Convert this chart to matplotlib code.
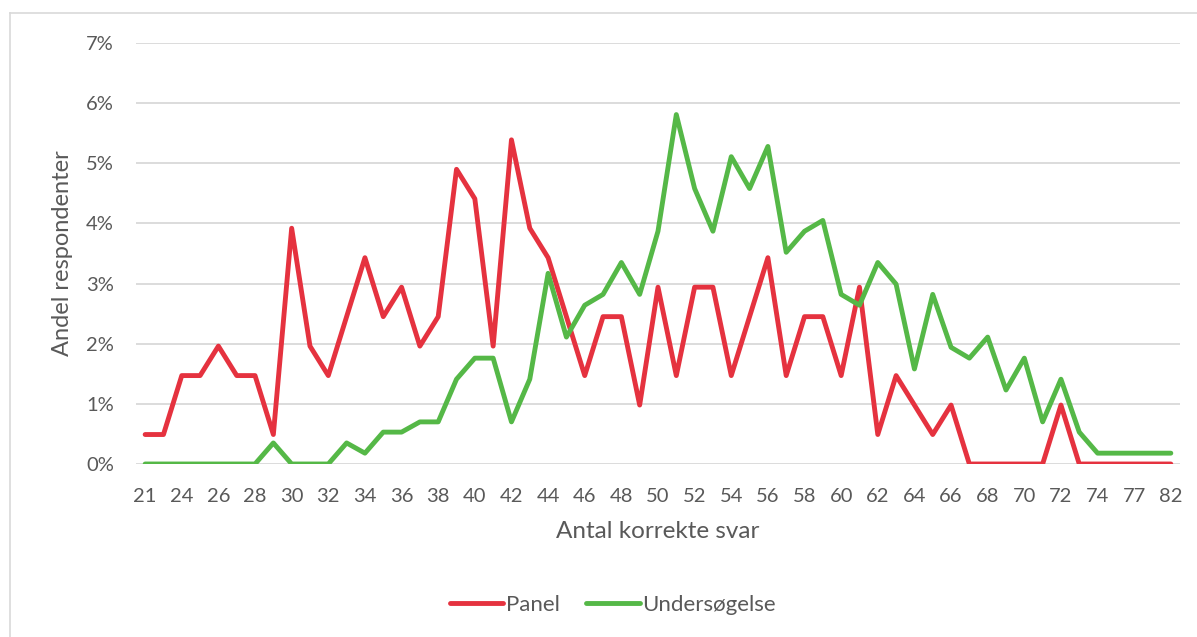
import matplotlib
matplotlib.use("Agg")
import matplotlib.pyplot as plt
from matplotlib.lines import Line2D
from matplotlib.ticker import FuncFormatter, MultipleLocator

plt.rcParams['font.family'] = ['Lato', 'DejaVu Sans']

categories = ['21', '22', '24', '25', '26', '27', '28', '29', '30', '31', '32', '33',
              '34', '35', '36', '37', '38', '39', '40', '41', '42', '43', '44', '45',
              '46', '47', '48', '49', '50', '51', '52', '53', '54', '55', '56', '57',
              '58', '59', '60', '61', '62', '63', '64', '65', '66', '67', '68', '69',
              '70', '71', '72', '73', '74', '75', '77', '79', '82']

panel = [0.49, 0.49, 1.47, 1.47, 1.96, 1.47, 1.47, 0.49, 3.92, 1.96, 1.47, 2.45,
         3.43, 2.45, 2.94, 1.96, 2.45, 4.90, 4.41, 1.96, 5.39, 3.92, 3.43, 2.45,
         1.47, 2.45, 2.45, 0.98, 2.94, 1.47, 2.94, 2.94, 1.47, 2.45, 3.43, 1.47,
         2.45, 2.45, 1.47, 2.94, 0.49, 1.47, 0.98, 0.49, 0.98, 0.0, 0.0, 0.0,
         0.0, 0.0, 0.98, 0.0, 0.0, 0.0, 0.0, 0.0, 0.0]

undersoegelse = [0.0, 0.0, 0.0, 0.0, 0.0, 0.0, 0.0, 0.35, 0.0, 0.0, 0.0, 0.35,
                 0.18, 0.53, 0.53, 0.70, 0.70, 1.41, 1.76, 1.76, 0.70, 1.41, 3.17, 2.11,
                 2.64, 2.82, 3.35, 2.82, 3.87, 5.81, 4.58, 3.87, 5.11, 4.58, 5.28, 3.52,
                 3.87, 4.05, 2.82, 2.64, 3.35, 2.99, 1.58, 2.82, 1.94, 1.76, 2.11, 1.23,
                 1.76, 0.70, 1.41, 0.53, 0.18, 0.18, 0.18, 0.18, 0.18]

series_names = ['Panel', 'Undersøgelse']
colors = ['#E5323F', '#55B847']
text_color = '#595959'
grid_color = '#D9D9D9'
line_w = 3.5

fig = plt.figure(figsize=(11.97, 6.37), dpi=100)
ax = fig.add_axes([0.1136, 0.2716, 0.8722, 0.6609])

x = list(range(len(categories)))
for vals, name, c in zip([panel, undersoegelse], series_names, colors):
    ax.plot(x, vals, color=c, lw=line_w, solid_capstyle='round',
            solid_joinstyle='round', label=name)

ax.set_xlim(-0.5, len(categories) - 0.5)
ax.set_ylim(0, 7)
ax.yaxis.set_major_locator(MultipleLocator(1))
ax.yaxis.set_major_formatter(FuncFormatter(lambda v, p: f"{v:.0f}%"))
ax.set_xticks(x[::2])
ax.set_xticklabels(categories[::2])

for s in ax.spines.values():
    s.set_visible(False)
ax.grid(axis='y', color=grid_color, lw=1.3)
ax.set_axisbelow(True)
ax.tick_params(axis='both', length=0, labelsize=14.5, labelcolor=text_color)
ax.tick_params(axis='y', pad=16)
ax.tick_params(axis='x', pad=17)

ax.set_xlabel('Antal korrekte svar', fontsize=17.5, color=text_color, labelpad=12)
ax.set_ylabel('Andel respondenter', fontsize=17, color=text_color, labelpad=9)

handles = [Line2D([0], [0], color=c, lw=line_w, solid_capstyle='round') for c in colors]
fig.legend(handles, series_names, loc='center', bbox_to_anchor=(613 / 1197, 1 - 605 / 637),
           ncol=2, frameon=False, fontsize=16, labelcolor=text_color,
           handlelength=2.4, handletextpad=0.12, columnspacing=1.2)

# chart border (light gray)
fig.add_artist(Line2D([10 / 1197, 1.0], [1 - 13 / 637, 1 - 13 / 637],
                      transform=fig.transFigure, color=grid_color, lw=1.2))
fig.add_artist(Line2D([10 / 1197, 10 / 1197], [0.0, 1 - 13 / 637],
                      transform=fig.transFigure, color=grid_color, lw=1.2))

fig.savefig('out.png', dpi=100, facecolor='white')
